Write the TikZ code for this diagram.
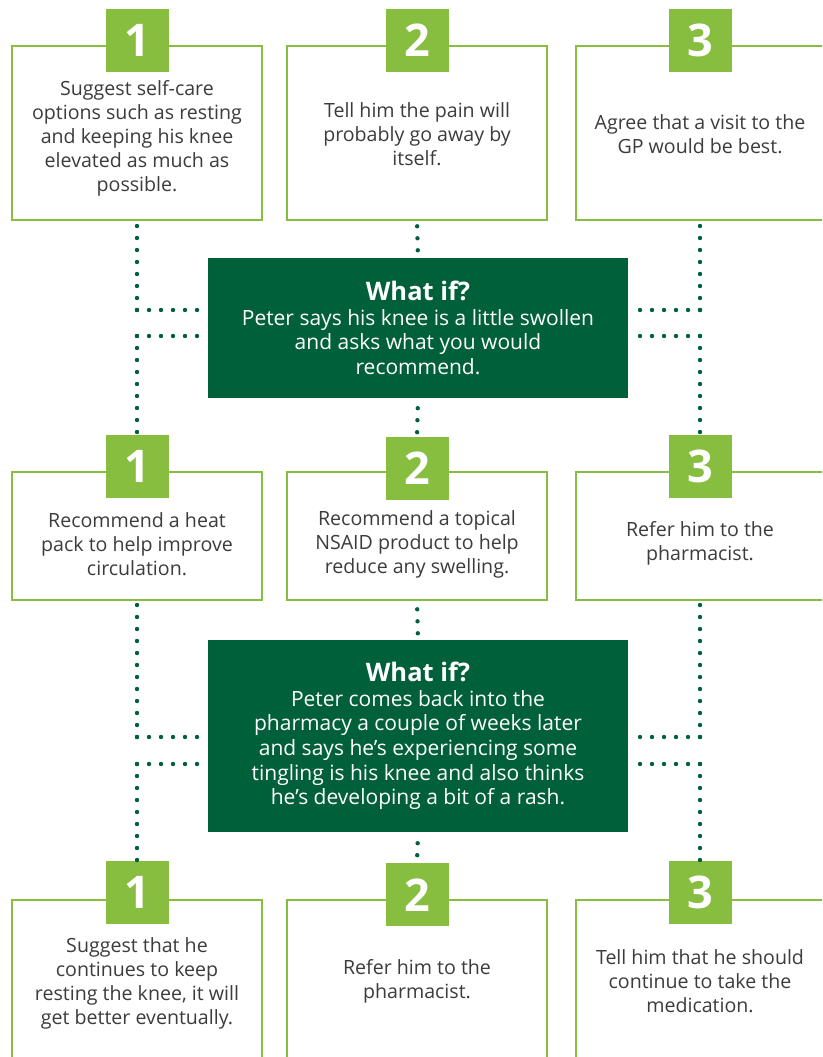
\documentclass[tikz,border=0pt]{standalone}
\usepackage{fontspec}
\setmainfont{Open Sans}
\definecolor{tabgreen}{RGB}{135,190,64}
\definecolor{darkgreen}{RGB}{0,96,57}
\definecolor{textgrey}{RGB}{60,60,60}
\tikzset{
  optbox/.style={draw=tabgreen, line width=2.6pt, fill=white, rectangle, inner sep=0pt},
  opttext/.style={text=textgrey, align=center, inner sep=0pt, font=\fontsize{19.6}{24}\selectfont},
  numtab/.style={fill=tabgreen, text=white, minimum size=63pt, inner sep=0pt, font=\fontsize{45}{45}\selectfont\bfseries},
  whatif/.style={fill=darkgreen, text=white, align=center, inner sep=0pt, minimum width=420pt, font=\fontsize{21}{24.6}\selectfont},
  linkdots/.style={draw=darkgreen, line width=4.4pt, line cap=round, dash pattern=on 0pt off 12pt}
}

\begin{document}
\begin{tikzpicture}[x=1pt, y=-1pt]
    \clip (0,0) rectangle (822,1057);

    % first row of answers
    \node[optbox, minimum width=250pt, minimum height=174pt] (a1) at (137,133) {};
    \node[optbox, minimum width=260pt, minimum height=174pt] (a2) at (417,133) {};
    \node[optbox, minimum width=248pt, minimum height=174pt] (a3) at (700,133) {};
    \node[opttext] (a1t) at ([yshift=-5pt]a1.center) {Suggest self-care\\options such as resting\\and keeping his knee\\elevated as much as\\possible.};
    \node[opttext] (a2t) at ([yshift=-1pt]a2.center) {Tell him the pain will\\probably go away by\\itself.};
    \node[opttext] (a3t) at ([yshift=-1pt]a3.center) {Agree that a visit to the\\GP would be best.};
    \node[numtab] (ta1) at ([yshift=4.5pt]a1.north) {1};
    \node[numtab] (ta2) at ([yshift=4.5pt]a2.north) {2};
    \node[numtab] (ta3) at ([yshift=4.5pt]a3.north) {3};

    \node[whatif, minimum height=140pt] (w1) at (418,328) {{\fontsize{25.5}{27}\selectfont\bfseries What if?}\\Peter says his knee is a little swollen\\and asks what you would\\recommend.};

    % second row of answers
    \node[optbox, minimum width=250pt, minimum height=128pt] (b1) at (137,536) {};
    \node[optbox, minimum width=260pt, minimum height=128pt] (b2) at (417,536) {};
    \node[optbox, minimum width=248pt, minimum height=128pt] (b3) at (700,536) {};
    \node[opttext] (b1t) at ([yshift=-8pt]b1.center) {Recommend a heat\\pack to help improve\\circulation.};
    \node[opttext] (b2t) at ([yshift=-8pt]b2.center) {Recommend a topical\\NSAID product to help\\reduce any swelling.};
    \node[opttext] (b3t) at ([yshift=-7pt]b3.center) {Refer him to the\\pharmacist.};
    \node[numtab] (tb1) at ([yshift=4.5pt]b1.north) {1};
    \node[numtab] (tb2) at ([yshift=2.5pt]b2.north) {2};
    \node[numtab] (tb3) at ([yshift=4.5pt]b3.north) {3};

    \node[whatif, minimum height=192pt] (w2) at (418,736) {{\fontsize{25.5}{27}\selectfont\bfseries What if?}\\Peter comes back into the\\pharmacy a couple of weeks later\\and says he’s experiencing some\\tingling is his knee and also thinks\\he’s developing a bit of a rash.};

    % third row of answers
    \node[optbox, minimum width=250pt, minimum height=170pt] (c1) at (137,985) {};
    \node[optbox, minimum width=260pt, minimum height=170pt] (c2) at (417,985) {};
    \node[optbox, minimum width=248pt, minimum height=170pt] (c3) at (700,985) {};
    \node[opttext] (c1t) at ([yshift=2pt]c1.center) {Suggest that he\\continues to keep\\resting the knee, it will\\get better eventually.};
    \node[opttext] (c2t) at ([yshift=4pt]c2.center) {Refer him to the\\pharmacist.};
    \node[opttext] (c3t) at ([yshift=4pt]c3.center) {Tell him that he should\\continue to take the\\medication.};
    \node[numtab] (tc1) at ([yshift=6.5pt]c1.north) {1};
    \node[numtab] (tc2) at ([yshift=4pt]c2.north) {2};
    \node[numtab] (tc3) at ([yshift=6.5pt]c3.north) {3};

    % dotted links, first what-if
    \coordinate (l1) at (a1.south |- 0,310);
    \coordinate (l2) at (a1.south |- 0,336);
    \coordinate (r1) at (a3.south |- 0,310);
    \coordinate (r2) at (a3.south |- 0,336);
    \draw[linkdots] (l1) -- (a1.south);
    \draw[linkdots] (l1) -- (l1 -| w1.west);
    \draw[linkdots] (l2) -- (l2 -| w1.west);
    \draw[linkdots] (l2) -- (tb1.north);
    \draw[linkdots] (r1) -- (a3.south);
    \draw[linkdots] (r1) -- (r1 -| w1.east);
    \draw[linkdots] (r2) -- (r2 -| w1.east);
    \draw[linkdots] (r2) -- (tb3.north);
    \draw[linkdots, dash phase=7pt] (a2.south) -- (w1.north);
    \draw[linkdots, dash phase=2pt] (w1.south) -- (tb2.north);

    % dotted links, second what-if
    \coordinate (l3) at (b1.south |- 0,737);
    \coordinate (l4) at (b1.south |- 0,764);
    \coordinate (r3) at (b3.south |- 0,737);
    \coordinate (r4) at (b3.south |- 0,764);
    \draw[linkdots] (l3) -- (b1.south);
    \draw[linkdots] (l3) -- (l3 -| w2.west);
    \draw[linkdots] (l4) -- (l4 -| w2.west);
    \draw[linkdots] (l4) -- (tc1.north);
    \draw[linkdots] (r3) -- (b3.south);
    \draw[linkdots] (r3) -- (r3 -| w2.east);
    \draw[linkdots] (r4) -- (r4 -| w2.east);
    \draw[linkdots] (r4) -- (tc3.north);
    \draw[linkdots, dash phase=4pt] (b2.south) -- (w2.north);
    \draw[linkdots, dash phase=1pt] (w2.south) -- (tc2.north);
\end{tikzpicture}
\end{document}
